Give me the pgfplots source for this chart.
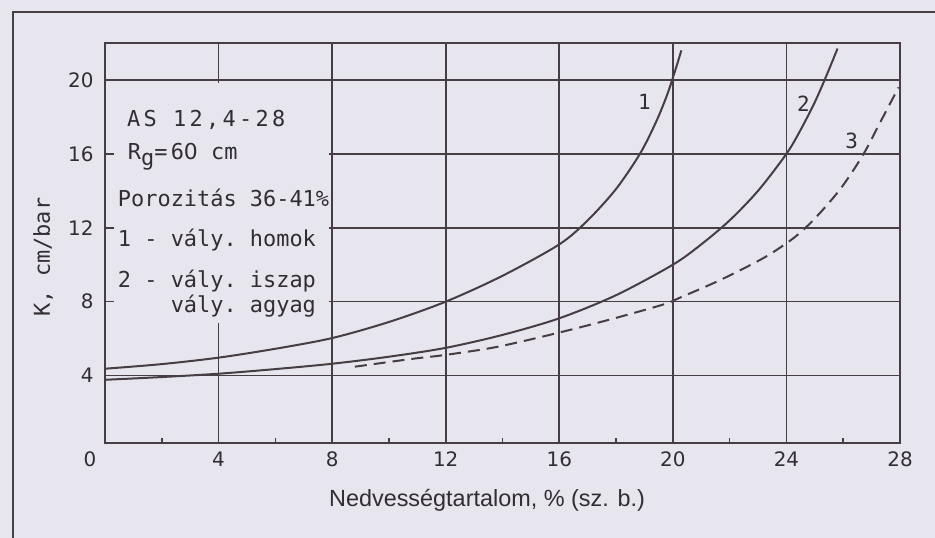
\documentclass[border=0pt]{standalone}
\usepackage{pgfplots}
\pgfplotsset{compat=1.18}
\usepackage{fontspec}
\setmainfont{Liberation Sans}
\setmonofont{DejaVu Sans Mono}
\newfontfamily\dvs{DejaVu Sans}
\newfontfamily\widemono[LetterSpace=15]{DejaVu Sans Mono}
\definecolor{bg}{RGB}{231,229,237}
\definecolor{ink}{RGB}{70,62,66}
\definecolor{txt}{RGB}{50,45,50}

\pgfplotstableread{
x y
0 4.37
2 4.62
4 4.97
6 5.45
8 6.03
10 6.9
12 8.0
14 9.4
16 11.1
17 12.4
18 14.1
18.84 16.0
19.4 17.7
19.8 19.2
20.1 20.6
20.3 21.6
}\curveA

\pgfplotstableread{
x y
0 3.77
2 3.92
4 4.1
6 4.35
8 4.64
10 5.02
12 5.5
14 6.2
16 7.1
18 8.35
20 10.0
21 11.1
22 12.4
23 14.0
24 16.0
24.5 17.3
25 18.8
25.4 20.2
25.8 21.7
}\curveB

\pgfplotstableread{
x y
8.8 4.48
10.8 4.9
12 5.12
13.8 5.55
15.9 6.29
17.8 7.04
19.65 7.84
20.3 8.25
21.5 9.05
22.5 9.8
23.4 10.55
24.3 11.5
25.0 12.5
25.9 14.1
26.7 15.95
27.3 17.7
27.95 19.6
}\curveC

\begin{document}
\begin{tikzpicture}
\fill[bg] (0,0) rectangle (935bp,538bp);
\useasboundingbox (0,0) rectangle (935bp,538bp);
\draw[ink, line width=1.4bp] (13bp,-2bp) -- (13bp,526bp) -- (937bp,526bp);
\begin{axis}[
  at={(105bp,95bp)}, anchor=south west,
  width=795bp, height=400bp, scale only axis,
  xmin=0, xmax=28, ymin=0.35, ymax=22,
  xtick={4,8,...,28}, ytick={4,8,...,20},
  extra x ticks={0},
  extra x tick style={grid=none, xticklabel style={xshift=-15bp}},
  minor xtick={2,6,...,26},
  tick align=inside, xtick pos=bottom, ytick pos=left,
  major tick length=7bp, minor tick length=5bp,
  grid=major,
  major grid style={ink, line width=1.6bp},
  axis line style={ink, line width=1.8bp},
  every tick/.style={ink, line width=1.5bp},
  ticklabel style={font=\dvs\fontsize{20}{20}\selectfont, text=txt},
  /pgf/number format/assume math mode=true,
  yticklabel style={xshift=-8bp},
  xticklabel style={yshift=-5bp},
  xlabel={Nedvességtartalom, \% (sz. b.)},
  ylabel={K, cm/bar},
  x label style={at={(axis description cs:0.4805,0)}, anchor=center, yshift=-57bp,
    font=\fontsize{23.5}{23.5}\selectfont, text=txt},
  y label style={at={(axis description cs:-0.078,0.465)}, anchor=center, rotate=0,
    font=\ttfamily\fontsize{22}{22}\selectfont, text=txt},
]
\fill[bg] (axis cs:0.3,6.85) rectangle (axis cs:7.9,19.82);
\addplot[ink, line width=2bp, smooth, no markers] table {\curveA};
\addplot[ink, line width=2bp, smooth, no markers] table {\curveB};
\addplot[ink, line width=2bp, smooth, no markers, dash pattern=on 12bp off 7bp] table {\curveC};
\begin{scope}[every node/.style={inner sep=0pt, anchor=base west, text=txt, font=\ttfamily\fontsize{22}{22}\selectfont}]
\node[font=\widemono\fontsize{22}{22}\selectfont] at (axis cs:0.77,17.48) {AS 12,4-28};
\node at (axis cs:0.8,15.72) {{\widemono R\raisebox{-6bp}{g}=6{\dvs 0}}\ cm};
\node at (axis cs:0.45,13.13) {Porozitás 36-41\%};
\node at (axis cs:0.45,11.01) {1 - vály. homok};
\node at (axis cs:0.45,8.78) {2 - vály. iszap};
\node at (axis cs:0.45,7.42) {\phantom{2 - }vály. agyag};
\end{scope}
\begin{scope}[every node/.style={inner sep=0pt, anchor=center, text=txt, font=\ttfamily\fontsize{21}{21}\selectfont}]
\node at (axis cs:19.0,18.8) {1};
\node at (axis cs:24.6,18.7) {2};
\node at (axis cs:26.3,16.7) {3};
\end{scope}
\end{axis}
\end{tikzpicture}
\end{document}
